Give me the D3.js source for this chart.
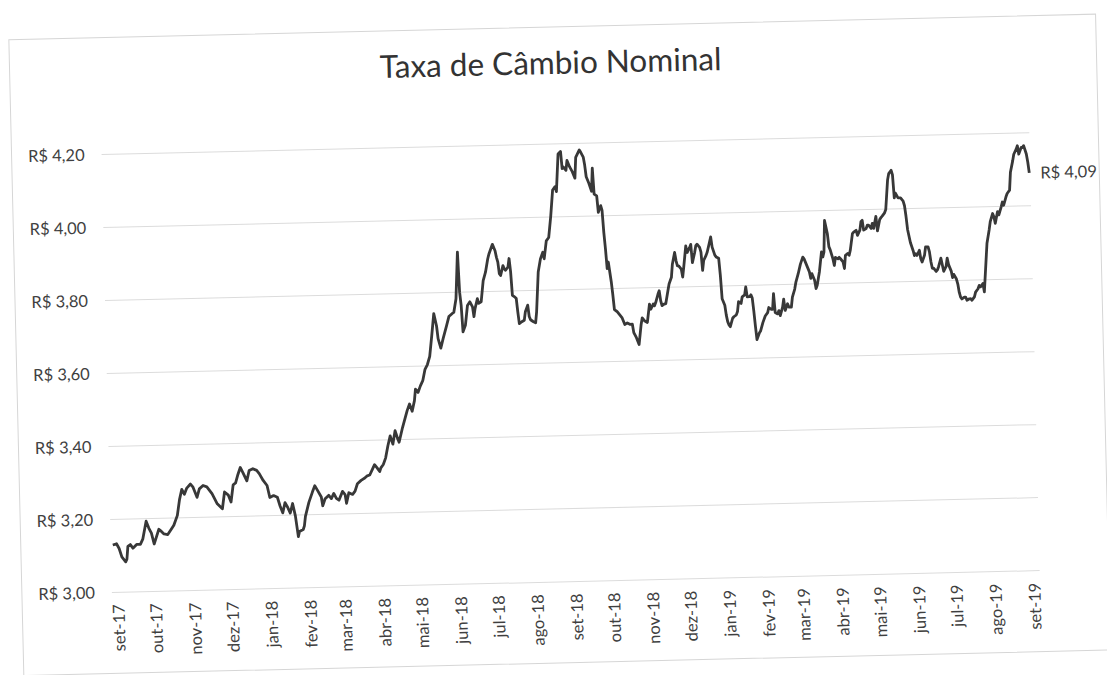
<!DOCTYPE html>
<html>
<head>
<meta charset="utf-8">
<script src="https://cdnjs.cloudflare.com/ajax/libs/d3/7.8.5/d3.min.js"></script>
<style>
  body { margin: 0; background: #fff; }
  svg text { font-family: Lato, "Open Sans", sans-serif; fill: #3f3f3f; }
</style>
</head>
<body>
<div id="chart"></div>
<script>
// labels
const chartTitle = "Taxa de Câmbio Nominal";
const monthNames = ["jan", "fev", "mar", "abr", "mai", "jun", "jul", "ago", "set", "out", "nov", "dez"];
const yTicks = [3.0, 3.2, 3.4, 3.6, 3.8, 4.0, 4.2];

// R$ per US$ (one line per month)
const dates = [
  "2017-09-01","2017-09-04","2017-09-06","2017-09-08","2017-09-11","2017-09-12","2017-09-13","2017-09-15","2017-09-17","2017-09-20","2017-09-23","2017-09-25","2017-09-28","2017-09-30",
  "2017-10-02","2017-10-04","2017-10-06","2017-10-08","2017-10-10","2017-10-12","2017-10-15","2017-10-18","2017-10-20","2017-10-23","2017-10-25","2017-10-27","2017-10-29","2017-10-31",
  "2017-11-03","2017-11-05","2017-11-08","2017-11-10","2017-11-13","2017-11-16","2017-11-20","2017-11-24","2017-11-28","2017-11-30",
  "2017-12-03","2017-12-05","2017-12-07","2017-12-09","2017-12-11","2017-12-13","2017-12-15","2017-12-18","2017-12-20","2017-12-23","2017-12-26","2017-12-28","2017-12-31",
  "2018-01-03","2018-01-05","2018-01-08","2018-01-11","2018-01-13","2018-01-15","2018-01-17","2018-01-19","2018-01-21","2018-01-23","2018-01-25","2018-01-27","2018-01-28","2018-01-31",
  "2018-02-01","2018-02-02","2018-02-05","2018-02-08","2018-02-10","2018-02-12","2018-02-15","2018-02-16","2018-02-18","2018-02-21","2018-02-23","2018-02-25","2018-02-27",
  "2018-03-01","2018-03-04","2018-03-06","2018-03-07","2018-03-09","2018-03-12","2018-03-14","2018-03-16","2018-03-19","2018-03-22","2018-03-24","2018-03-26","2018-03-28","2018-03-30",
  "2018-04-01","2018-04-03","2018-04-04","2018-04-06","2018-04-08","2018-04-10","2018-04-12","2018-04-14","2018-04-16","2018-04-18","2018-04-19","2018-04-22","2018-04-24","2018-04-26","2018-04-28","2018-04-30",
  "2018-05-02","2018-05-03","2018-05-05","2018-05-07","2018-05-09","2018-05-11","2018-05-13","2018-05-15","2018-05-17","2018-05-19","2018-05-21","2018-05-22","2018-05-24","2018-05-26","2018-05-29","2018-05-31",
  "2018-06-03","2018-06-04","2018-06-06","2018-06-08","2018-06-09","2018-06-10","2018-06-11","2018-06-13","2018-06-15","2018-06-17","2018-06-19","2018-06-20","2018-06-21","2018-06-23","2018-06-24","2018-06-26","2018-06-28","2018-06-30",
  "2018-07-02","2018-07-03","2018-07-06","2018-07-08","2018-07-09","2018-07-10","2018-07-11","2018-07-12","2018-07-14","2018-07-15","2018-07-16","2018-07-18","2018-07-19","2018-07-20","2018-07-21","2018-07-23","2018-07-24","2018-07-25","2018-07-26","2018-07-28","2018-07-30","2018-07-31",
  "2018-08-02","2018-08-03","2018-08-04","2018-08-06","2018-08-08","2018-08-09","2018-08-11","2018-08-13","2018-08-15","2018-08-16","2018-08-18","2018-08-20","2018-08-22","2018-08-24","2018-08-26","2018-08-27","2018-08-29","2018-08-31",
  "2018-09-01","2018-09-02","2018-09-04","2018-09-05","2018-09-07","2018-09-09","2018-09-11","2018-09-12","2018-09-15","2018-09-16","2018-09-18","2018-09-19","2018-09-20","2018-09-22","2018-09-24","2018-09-25","2018-09-26","2018-09-28","2018-09-29",
  "2018-10-01","2018-10-02","2018-10-03","2018-10-04","2018-10-05","2018-10-06","2018-10-08","2018-10-09","2018-10-10","2018-10-12","2018-10-14","2018-10-16","2018-10-18","2018-10-20","2018-10-22","2018-10-24","2018-10-25","2018-10-27","2018-10-29","2018-10-31",
  "2018-11-01","2018-11-03","2018-11-05","2018-11-07","2018-11-08","2018-11-10","2018-11-11","2018-11-12","2018-11-14","2018-11-15","2018-11-16","2018-11-17","2018-11-19","2018-11-20","2018-11-22","2018-11-23","2018-11-25","2018-11-26","2018-11-28","2018-11-29","2018-11-30",
  "2018-12-01","2018-12-03","2018-12-04","2018-12-05","2018-12-07","2018-12-08","2018-12-10","2018-12-11","2018-12-12","2018-12-14","2018-12-15","2018-12-16","2018-12-18","2018-12-19","2018-12-20","2018-12-21","2018-12-23","2018-12-24","2018-12-26","2018-12-27","2018-12-28","2018-12-30","2018-12-31",
  "2019-01-02","2019-01-03","2019-01-04","2019-01-06","2019-01-07","2019-01-08","2019-01-09","2019-01-10","2019-01-12","2019-01-13","2019-01-15","2019-01-16","2019-01-17","2019-01-19","2019-01-20","2019-01-22","2019-01-23","2019-01-24","2019-01-26","2019-01-27","2019-01-28","2019-01-29","2019-01-30","2019-01-31",
  "2019-02-02","2019-02-03","2019-02-05","2019-02-07","2019-02-09","2019-02-10","2019-02-12","2019-02-13","2019-02-14","2019-02-15","2019-02-17","2019-02-18","2019-02-19","2019-02-21","2019-02-22","2019-02-23","2019-02-25","2019-02-26","2019-02-28",
  "2019-03-01","2019-03-03","2019-03-04","2019-03-06","2019-03-08","2019-03-10","2019-03-11","2019-03-12","2019-03-14","2019-03-15","2019-03-16","2019-03-17","2019-03-19","2019-03-20","2019-03-21","2019-03-23","2019-03-25","2019-03-26","2019-03-27","2019-03-28","2019-03-30","2019-03-31",
  "2019-04-01","2019-04-03","2019-04-04","2019-04-05","2019-04-07","2019-04-08","2019-04-09","2019-04-11","2019-04-12","2019-04-13","2019-04-15","2019-04-16","2019-04-17","2019-04-19","2019-04-20","2019-04-22","2019-04-23","2019-04-25","2019-04-26","2019-04-27","2019-04-28","2019-04-30",
  "2019-05-01","2019-05-02","2019-05-04","2019-05-05","2019-05-06","2019-05-08","2019-05-09","2019-05-11","2019-05-12","2019-05-13","2019-05-15","2019-05-16","2019-05-18","2019-05-19","2019-05-21","2019-05-22","2019-05-23","2019-05-24","2019-05-26","2019-05-27","2019-05-28","2019-05-30","2019-05-31",
  "2019-06-01","2019-06-02","2019-06-03","2019-06-04","2019-06-06","2019-06-07","2019-06-08","2019-06-09","2019-06-11","2019-06-12","2019-06-13","2019-06-15","2019-06-16","2019-06-18","2019-06-19","2019-06-20","2019-06-21","2019-06-22","2019-06-24","2019-06-25","2019-06-26","2019-06-28","2019-06-29","2019-06-30",
  "2019-07-02","2019-07-03","2019-07-04","2019-07-06","2019-07-07","2019-07-08","2019-07-10","2019-07-11","2019-07-12","2019-07-13","2019-07-14","2019-07-16","2019-07-17","2019-07-18","2019-07-20","2019-07-21","2019-07-22","2019-07-24","2019-07-25","2019-07-27","2019-07-28","2019-07-29","2019-07-31",
  "2019-08-01","2019-08-03","2019-08-04","2019-08-06","2019-08-07","2019-08-09","2019-08-10","2019-08-11","2019-08-13","2019-08-14","2019-08-16","2019-08-17","2019-08-18","2019-08-20","2019-08-21","2019-08-23","2019-08-24","2019-08-26","2019-08-27","2019-08-29","2019-08-30","2019-08-31",
  "2019-09-02","2019-09-03","2019-09-04","2019-09-06","2019-09-07","2019-09-08"
];
const rates = [
  3.130,3.133,3.120,3.097,3.083,3.090,3.125,3.130,3.120,3.130,3.130,3.144,3.193,3.174,
  3.160,3.130,3.150,3.170,3.164,3.157,3.155,3.170,3.180,3.207,3.250,3.278,3.264,3.281,
  3.292,3.283,3.255,3.278,3.287,3.283,3.264,3.236,3.222,3.268,
  3.259,3.240,3.287,3.292,3.315,3.334,3.320,3.297,3.325,3.330,3.325,3.316,3.297,
  3.283,3.250,3.255,3.250,3.226,3.207,3.235,3.222,3.206,3.232,3.198,3.141,3.155,3.160,
  3.170,3.196,3.234,3.262,3.279,3.267,3.248,3.224,3.243,3.252,3.243,3.257,3.243,
  3.238,3.262,3.253,3.229,3.258,3.253,3.262,3.282,3.291,3.297,3.303,3.305,3.319,3.333,
  3.324,3.314,3.324,3.333,3.351,3.384,3.411,3.388,3.425,3.402,3.393,3.433,3.456,3.479,3.497,3.477,
  3.506,3.537,3.528,3.546,3.560,3.591,3.604,3.626,3.683,3.743,3.709,3.674,3.648,3.674,3.709,3.734,
  3.743,3.745,3.782,3.910,3.800,3.764,3.691,3.709,3.763,3.773,3.759,3.732,3.754,3.781,3.768,3.772,3.830,3.853,
  3.889,3.902,3.929,3.911,3.893,3.880,3.848,3.843,3.870,3.861,3.857,3.866,3.889,3.853,3.788,3.783,3.779,3.742,3.710,3.715,3.719,3.742,
  3.760,3.729,3.720,3.715,3.711,3.742,3.850,3.886,3.904,3.886,3.935,3.944,4.002,4.074,4.083,4.069,4.172,4.179,
  4.132,4.136,4.127,4.154,4.136,4.123,4.105,4.162,4.182,4.176,4.162,4.140,4.108,4.090,4.068,4.131,4.060,4.055,4.010,
  4.028,4.015,3.954,3.909,3.855,3.873,3.819,3.783,3.742,3.737,3.728,3.719,3.701,3.705,3.701,3.701,3.678,3.664,3.645,3.700,
  3.718,3.709,3.705,3.755,3.741,3.755,3.750,3.759,3.782,3.791,3.764,3.750,3.755,3.755,3.791,3.809,3.827,3.863,3.895,3.872,3.858,
  3.858,3.849,3.827,3.854,3.912,3.894,3.907,3.916,3.866,3.894,3.912,3.916,3.907,3.894,3.844,3.871,3.885,3.894,3.921,3.935,3.907,3.885,3.880,
  3.876,3.830,3.765,3.747,3.720,3.702,3.693,3.688,3.711,3.715,3.720,3.729,3.756,3.751,3.769,3.774,3.796,3.769,3.769,3.774,3.765,3.729,3.688,3.651,
  3.669,3.674,3.697,3.715,3.724,3.738,3.733,3.733,3.776,3.724,3.720,3.729,3.715,3.738,3.760,3.729,3.747,3.738,3.738,
  3.765,3.787,3.805,3.828,3.855,3.874,3.869,3.860,3.842,3.833,3.815,3.828,3.810,3.787,3.796,3.833,3.887,3.873,3.887,3.973,3.937,3.901,
  3.892,3.867,3.849,3.871,3.867,3.871,3.867,3.858,3.840,3.876,3.881,3.876,3.890,3.935,3.939,3.944,3.930,3.944,3.967,3.971,3.944,3.948,
  3.957,3.957,3.948,3.962,3.948,3.981,3.941,3.972,3.977,3.981,3.990,3.999,4.080,4.097,4.106,4.093,4.030,4.043,4.030,4.030,4.030,4.021,4.008,
  3.979,3.943,3.925,3.907,3.885,3.871,3.876,3.871,3.885,3.862,3.853,3.871,3.894,3.894,3.880,3.853,3.835,3.835,3.826,3.830,3.839,3.862,3.844,3.826,
  3.839,3.862,3.844,3.826,3.808,3.817,3.804,3.790,3.767,3.754,3.749,3.754,3.754,3.745,3.749,3.749,3.745,3.754,3.767,3.776,3.785,3.781,3.790,
  3.767,3.856,3.900,3.937,3.959,3.981,3.972,3.954,3.986,3.977,3.999,4.012,4.003,4.026,4.035,4.044,4.093,4.124,4.142,4.156,4.165,4.142,
  4.160,4.160,4.165,4.142,4.120,4.090
];

const parseDate = d3.timeParse("%Y-%m-%d");
const data = dates.map((d, i) => ({ date: parseDate(d), value: rates[i] }));
const brl = (v) => "R$ " + v.toFixed(2).replace(".", ",");

const svg = d3.select("#chart").append("svg")
  .attr("width", 1107)
  .attr("height", 675);

// the scanned page sits a little crooked
const g = svg.append("g").attr("transform", "rotate(-1.35, 553, 337)");

// chart card
g.append("rect")
  .attr("x", 16).attr("y", 27)
  .attr("width", 1087).attr("height", 636)
  .attr("fill", "#fff")
  .attr("stroke", "#d6d6d6");

const x = d3.scaleTime()
  .domain(d3.extent(data, (d) => d.date))
  .range([108, 1033]);
const y = d3.scaleLinear().domain([3.0, 4.2]).range([582, 144]);

// gridlines
g.append("g")
  .selectAll("line")
  .data(yTicks)
  .enter()
  .append("line")
  .attr("x1", 106).attr("x2", 1034)
  .attr("y1", (d) => y(d)).attr("y2", (d) => y(d))
  .attr("stroke", "#dcdcdc")
  .attr("stroke-width", 1);

// y axis labels
const yAxis = g.append("g")
  .attr("transform", "translate(106,0)")
  .call(d3.axisLeft(y).tickValues(yTicks).tickFormat(brl).tickSize(0).tickPadding(17));
yAxis.select(".domain").remove();
yAxis.selectAll("text").style("font-size", "16.5px").style("font-family", null);

// x axis labels, one per month
const monthTicks = d3.timeMonth.range(new Date(2017, 8, 1), new Date(2019, 8, 2));
const xAxis = g.append("g")
  .attr("transform", "translate(0,582)")
  .call(d3.axisBottom(x)
    .tickValues(monthTicks)
    .tickFormat((d) => monthNames[d.getMonth()] + "-" + String(d.getFullYear()).slice(2))
    .tickSize(0));
xAxis.select(".domain").remove();
xAxis.selectAll("text")
  .attr("transform", "rotate(-90)")
  .attr("text-anchor", "end")
  .attr("x", -12)
  .attr("y", 4)
  .attr("dy", "0.35em")
  .style("font-size", "16.5px")
  .style("font-family", null);

// the rate line
const line = d3.line()
  .x((d) => x(d.date))
  .y((d) => y(d.value));

g.append("path")
  .datum(data)
  .attr("fill", "none")
  .attr("stroke", "#383838")
  .attr("stroke-width", 2.8)
  .attr("stroke-linejoin", "round")
  .attr("d", line);

// label on the last value
const last = data[data.length - 1];
g.append("text")
  .attr("x", x(last.date) + 11)
  .attr("y", y(last.value))
  .attr("dy", "0.35em")
  .style("font-size", "16.5px")
  .text(brl(last.value));

// title
g.append("text")
  .attr("x", 557)
  .attr("y", 74)
  .attr("text-anchor", "middle")
  .style("font-size", "31.5px")
  .style("fill", "#333")
  .text(chartTitle);
</script>
</body>
</html>
